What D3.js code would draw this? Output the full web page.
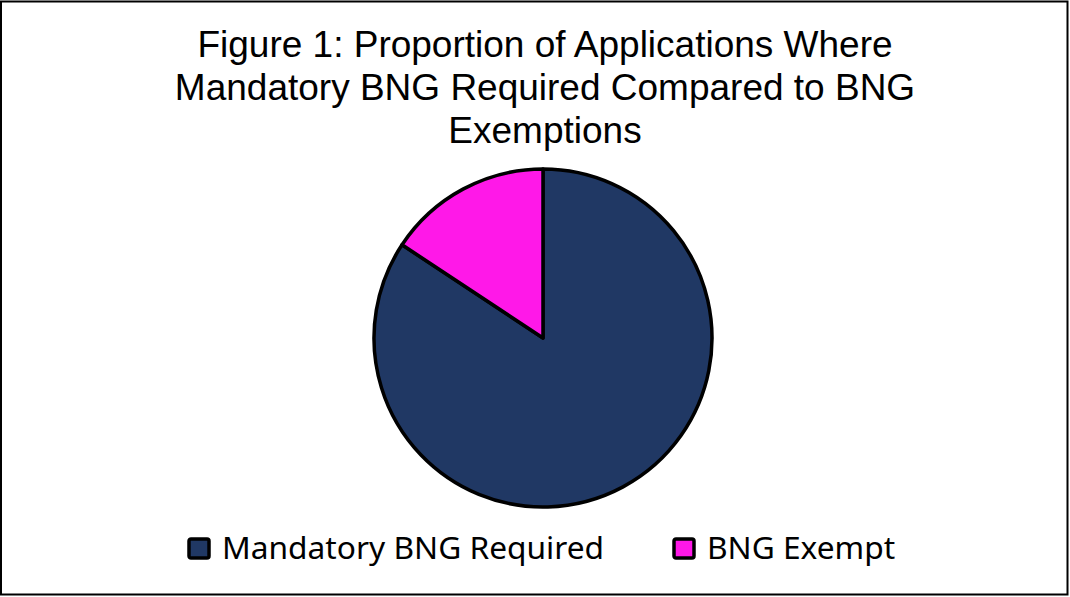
<!DOCTYPE html>
<html>
<head>
<meta charset="utf-8">
<script src="https://cdn.jsdelivr.net/npm/d3@7.9.0/dist/d3.min.js"></script>
<style>
  body { margin: 0; background: #fff; }
</style>
</head>
<body>
<svg id="chart" width="1070" height="597"></svg>
<script>
// Chart data
const categories = ['Mandatory BNG Required', 'BNG Exempt'];
const shares = [84.3, 15.7];
const colours = ['#203864', '#ff18e8'];
const titleLines = [
  'Figure 1: Proportion of Applications Where',
  'Mandatory BNG Required Compared to BNG',
  'Exemptions'
];

const svg = d3.select('#chart');

// outer border
svg.append('rect')
  .attr('x', 1).attr('y', 1.5)
  .attr('width', 1066.5).attr('height', 593)
  .attr('fill', '#fff')
  .attr('stroke', '#000')
  .attr('stroke-width', 2);

// title
svg.append('g')
  .selectAll('text')
  .data(titleLines)
  .join('text')
  .attr('x', 545)
  .attr('y', (d, i) => 57 + i * 43)
  .attr('text-anchor', 'middle')
  .attr('font-family', 'Liberation Sans, Arial, sans-serif')
  .attr('font-size', 37)
  .attr('fill', '#000')
  .text(d => d);

// pie - clockwise from 12 o'clock, so the exempt slice ends up on the upper left
const data = categories.map((c, i) => ({ name: c, value: shares[i], colour: colours[i] }));
const pie = d3.pie().sort(null).value(d => d.value);
const arc = d3.arc().innerRadius(0).outerRadius(169);

svg.append('g')
  .attr('transform', 'translate(543,338)')
  .selectAll('path')
  .data(pie(data))
  .join('path')
  .attr('d', arc)
  .attr('fill', d => d.data.colour)
  .attr('stroke', '#000')
  .attr('stroke-width', 3.5)
  .attr('stroke-linejoin', 'round');

// legend
const legendX = [187, 672];
const legend = svg.append('g')
  .selectAll('g')
  .data(data)
  .join('g')
  .attr('transform', (d, i) => `translate(${legendX[i]},537)`);

legend.append('rect')
  .attr('x', 2).attr('y', 2)
  .attr('width', 20).attr('height', 19)
  .attr('rx', 2)
  .attr('fill', d => d.colour)
  .attr('stroke', '#000')
  .attr('stroke-width', 3.5);

legend.append('text')
  .attr('x', 35)
  .attr('y', 21.5)
  .attr('font-family', 'Noto Sans, sans-serif')
  .attr('font-size', 31.7)
  .attr('fill', '#000')
  .text(d => d.name);
</script>
</body>
</html>
